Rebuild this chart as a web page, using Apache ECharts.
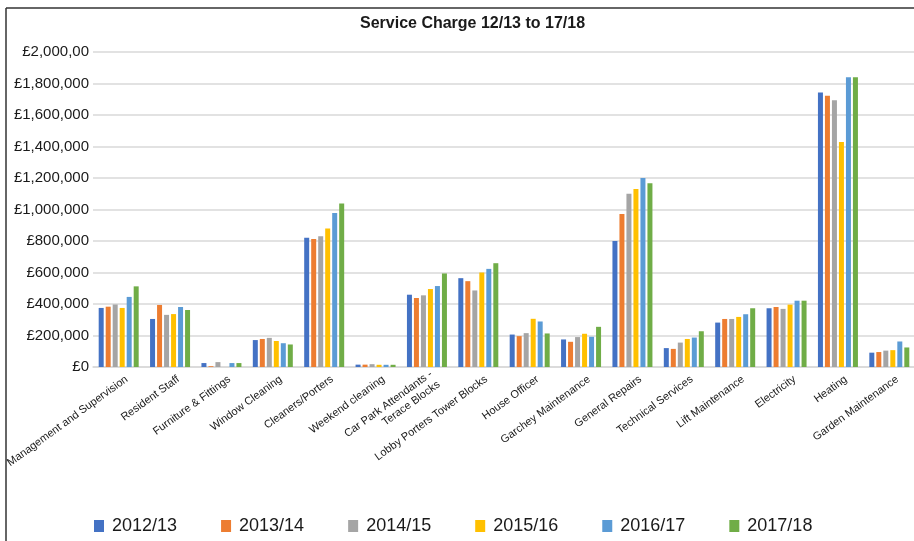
<!DOCTYPE html>
<html>
<head>
<meta charset="utf-8">
<title>Service Charge 12/13 to 17/18</title>
<script src="https://cdn.jsdelivr.net/npm/echarts@6/dist/echarts.min.js"></script>
<style>
  html, body { margin: 0; padding: 0; background: #fff; }
  #chart { width: 914px; height: 541px; }
</style>
</head>
<body>
<div id="chart"></div>
<script>
// categories along the x axis
var categories = [
  'Management and Supervision', 'Resident Staff', 'Furniture & Fittings',
  'Window Cleaning', 'Cleaners/Porters', 'Weekend cleaning',
  'Car Park Attendants -\nTerace Blocks', 'Lobby Porters Tower Blocks',
  'House Officer', 'Garchey Maintenance', 'General Repairs',
  'Technical Services', 'Lift Maintenance', 'Electricity', 'Heating',
  'Garden Maintenance'
];

// values (GBP)
var y2012 = [375000, 305000, 25000, 171000, 821000, 15000, 459000, 564000, 206000, 175000, 800000, 120000, 282000, 373000, 1743000, 91000];
var y2013 = [383000, 394000, 5000, 178000, 813000, 15000, 438000, 545000, 196000, 160000, 972000, 115000, 305000, 381000, 1723000, 95000];
var y2014 = [397000, 331000, 31000, 185000, 830000, 18000, 455000, 486000, 215000, 190000, 1100000, 155000, 305000, 369000, 1694000, 104000];
var y2015 = [375000, 336000, 0, 165000, 880000, 14000, 495000, 600000, 306000, 211000, 1130000, 178000, 318000, 396000, 1428000, 107000];
var y2016 = [445000, 381000, 25000, 151000, 977000, 14000, 514000, 623000, 289000, 192000, 1200000, 187000, 335000, 421000, 1840000, 162000];
var y2017 = [512000, 362000, 25000, 143000, 1038000, 14000, 594000, 659000, 213000, 255000, 1166000, 227000, 373000, 421000, 1840000, 124000];

var seriesNames = ['2012/13', '2013/14', '2014/15', '2015/16', '2016/17', '2017/18'];
var seriesData = [y2012, y2013, y2014, y2015, y2016, y2017];
var colors = ['#4472C4', '#ED7D31', '#A5A5A5', '#FFC000', '#5B9BD5', '#70AD47'];

// y tick labels as printed (top one is cut off in the original)
var yTickLabels = ['£0', '£200,000', '£400,000', '£600,000', '£800,000', '£1,000,000',
  '£1,200,000', '£1,400,000', '£1,600,000', '£1,800,000', '£2,000,00'];

var myChart = echarts.init(document.getElementById('chart'));

var series = [];
for (var i = 0; i < seriesNames.length; i++) {
  series.push({
    name: seriesNames[i],
    type: 'bar',
    data: seriesData[i],
    barWidth: 5,
    barGap: '40%',
    itemStyle: { color: colors[i] }
  });
}

var option = {
  animation: false,
  textStyle: { fontFamily: 'Liberation Sans, Arial, sans-serif' },
  title: {
    text: 'Service Charge 12/13 to 17/18',
    left: 355,
    top: 11,
    textStyle: { fontSize: 16, fontWeight: 'bold', color: '#1a1a1a' }
  },
  legend: {
    data: seriesNames,
    left: 89,
    top: 512,
    itemWidth: 10,
    itemHeight: 12,
    itemGap: 44,
    icon: 'rect',
    textStyle: { fontSize: 18, color: '#1a1a1a', padding: [0, 0, 0, 3] }
  },
  grid: {
    left: 93,
    top: 52,
    width: 822,
    height: 315,
    containLabel: false,
    outerBoundsMode: 'none'
  },
  xAxis: {
    type: 'category',
    data: categories,
    axisTick: { show: false },
    axisLine: { lineStyle: { color: '#d9d9d9', width: 1.5 } },
    axisLabel: {
      rotate: 36,
      interval: 0,
      fontSize: 11,
      color: '#1a1a1a',
      margin: 17,
      lineHeight: 13,
      padding: [0, -10, 0, 0]
    }
  },
  yAxis: {
    type: 'value',
    min: 0,
    max: 2000000,
    interval: 200000,
    axisLine: { show: false },
    axisTick: { show: false },
    splitLine: { lineStyle: { color: '#d9d9d9', width: 1.5 } },
    axisLabel: {
      fontSize: 15,
      color: '#1a1a1a',
      margin: 4,
      formatter: function (v) {
        return yTickLabels[Math.round(v / 200000)];
      }
    }
  },
  graphic: [
    { type: 'line', shape: { x1: 6, y1: 8, x2: 6, y2: 541 }, style: { stroke: '#333', lineWidth: 1.5 } },
    { type: 'line', shape: { x1: 6, y1: 8, x2: 914, y2: 8 }, style: { stroke: '#333', lineWidth: 1.5 } }
  ],
  series: series
};

option && myChart.setOption(option);
</script>
</body>
</html>
